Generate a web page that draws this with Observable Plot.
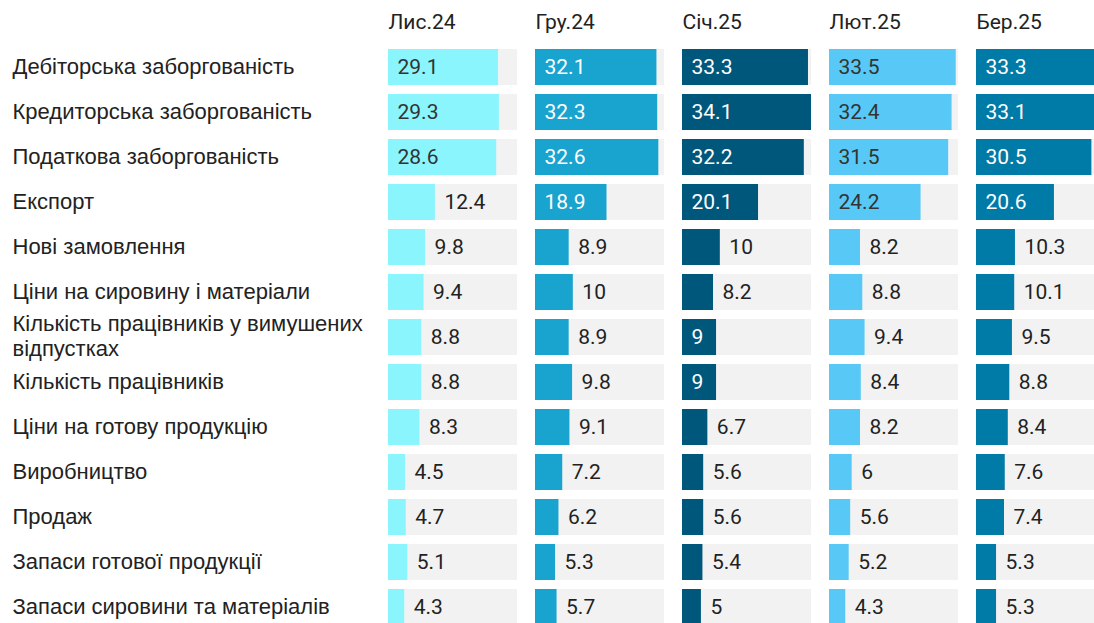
<!DOCTYPE html>
<html>
<head>
<meta charset="utf-8">
<script src="https://cdn.jsdelivr.net/npm/d3@7"></script>
<script src="https://cdn.jsdelivr.net/npm/@observablehq/plot@0.6"></script>
<style>
  html, body { margin: 0; padding: 0; background: #fff; overflow: hidden; }
  #chart { width: 1094px; height: 623px; overflow: hidden; }
  #chart svg { max-width: none !important; }
</style>
</head>
<body>
<div id="chart"></div>
<script>
const months = ["Лис.24", "Гру.24", "Січ.25", "Лют.25", "Бер.25"];
const monthColors = ["#8af5fd", "#19a3cf", "#00577c", "#58c9f6", "#007aa6"];
const darkTextMonths = ["Лис.24", "Лют.25"];

const categories = [
  "Дебіторська заборгованість",
  "Кредиторська заборгованість",
  "Податкова заборгованість",
  "Експорт",
  "Нові замовлення",
  "Ціни на сировину і матеріали",
  "Кількість працівників у вимушених відпустках",
  "Кількість працівників",
  "Ціни на готову продукцію",
  "Виробництво",
  "Продаж",
  "Запаси готової продукції",
  "Запаси сировини та матеріалів"
];

// values per month, in category order
const lys24 = [29.1, 29.3, 28.6, 12.4, 9.8, 9.4, 8.8, 8.8, 8.3, 4.5, 4.7, 5.1, 4.3];
const hru24 = [32.1, 32.3, 32.6, 18.9, 8.9, 10, 8.9, 9.8, 9.1, 7.2, 6.2, 5.3, 5.7];
const sich25 = [33.3, 34.1, 32.2, 20.1, 10, 8.2, 9, 9, 6.7, 5.6, 5.6, 5.4, 5];
const liut25 = [33.5, 32.4, 31.5, 24.2, 8.2, 8.8, 9.4, 8.4, 8.2, 6, 5.6, 5.2, 4.3];
const ber25 = [33.3, 33.1, 30.5, 20.6, 10.3, 10.1, 9.5, 8.8, 8.4, 7.6, 7.4, 5.3, 5.3];

const series = [lys24, hru24, sich25, liut25, ber25];
const data = [];
months.forEach((m, i) => {
  categories.forEach((c, j) => data.push({month: m, category: c, value: series[i][j]}));
});
const maxVal = d3.max(data, d => d.value);

const isInside = d => d.value >= 15 || (d.month === "Січ.25" && d.value === 9);
const fmt = d => String(d.value);

const FONT = "Roboto, sans-serif";
const LABEL_FONT = "'Liberation Sans', Arial, sans-serif";

const chart = Plot.plot({
  width: 1105,
  height: 628,
  marginLeft: 388,
  marginRight: 0,
  marginTop: 46,
  marginBottom: 0,
  style: {fontFamily: FONT, background: "#fff", maxWidth: "none"},
  fx: {domain: months, paddingInner: 18 / 147, paddingOuter: 0, axis: null},
  x: {domain: [0, maxVal], axis: null},
  y: {domain: categories, paddingInner: 9.5 / 45.5, paddingOuter: 0, label: null},
  color: {domain: months, range: monthColors},
  marks: [
    Plot.axisY({
      tickSize: 0,
      tickPadding: 0,
      textAnchor: "start",
      dx: -376,
      dy: -2,
      fontSize: 22,
      fontFamily: LABEL_FONT,
      fill: "#222",
      tickFormat: d => d.replace(" відпустках", "\nвідпустках"),
      lineHeight: 1.15
    }),
    Plot.barX(data, {x1: 0, x2: () => maxVal, y: "category", fx: "month", fill: "#f2f2f2"}),
    Plot.barX(data, {x: "value", y: "category", fx: "month", fill: "month"}),
    Plot.text(data, {
      filter: d => isInside(d) && darkTextMonths.includes(d.month),
      x: 0, y: "category", fx: "month", text: fmt,
      textAnchor: "start", dx: 9, fontSize: 21, fill: "#333"
    }),
    Plot.text(data, {
      filter: d => isInside(d) && !darkTextMonths.includes(d.month),
      x: 0, y: "category", fx: "month", text: fmt,
      textAnchor: "start", dx: 9, fontSize: 21, fill: "#fff"
    }),
    Plot.text(data, {
      filter: d => !isInside(d),
      x: "value", y: "category", fx: "month", text: fmt,
      textAnchor: "start", dx: 9, fontSize: 21, fill: "#222"
    }),
    Plot.text(months, {
      fx: d => d, text: d => d, frameAnchor: "top-left",
      dy: -24, lineAnchor: "middle", textAnchor: "start",
      fontSize: 21, fill: "#222"
    })
  ]
});

document.getElementById("chart").appendChild(chart);
</script>
</body>
</html>
